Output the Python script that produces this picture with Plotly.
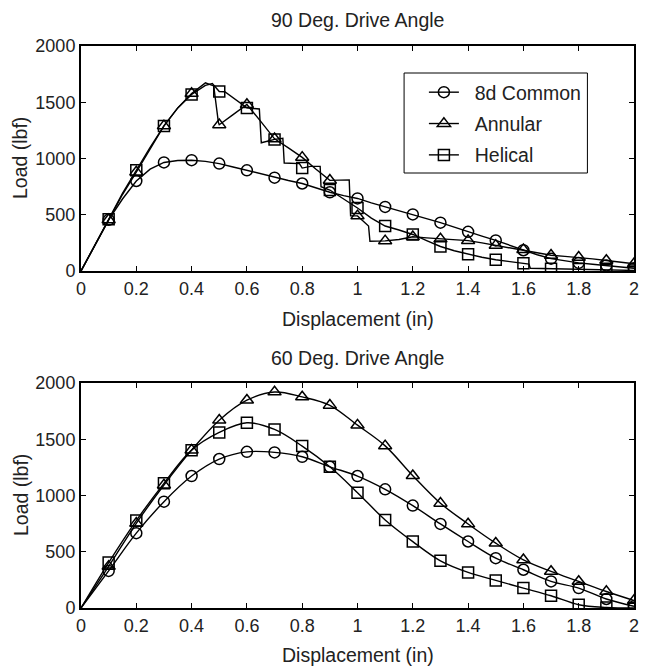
import plotly.graph_objects as go

# ---------------- data ----------------
tick_vals = [0, 0.2, 0.4, 0.6, 0.8, 1.0, 1.2, 1.4, 1.6, 1.8, 2.0]
tick_text = ["0", "0.2", "0.4", "0.6", "0.8", "1", "1.2", "1.4", "1.6", "1.8", "2"]
y_tick_vals = [0, 500, 1000, 1500, 2000]
y_tick_text = ["0", "500", "1000", "1500", "2000"]

series_names = ["8d Common", "Annular", "Helical"]
series_symbols = ["circle-open", "triangle-up-open", "square-open"]
series_sizes = [11, 11.5, 11]

# 90 deg drive angle (measured curves)
common90_x = [0, 0.05, 0.1, 0.15, 0.2, 0.25, 0.3, 0.35, 0.4, 0.45, 0.5, 0.55, 0.6, 0.65, 0.7, 0.75, 0.8,
              0.85, 0.9, 0.95, 1.0, 1.05, 1.1, 1.15, 1.2, 1.25, 1.3, 1.35, 1.4, 1.45, 1.5, 1.55, 1.6,
              1.65, 1.7, 1.75, 1.8, 1.85, 1.9, 1.95, 2.0]
common90_y = [0, 230, 455, 640, 800, 905, 965, 982, 985, 975, 955, 925, 895, 862, 830, 805, 778,
              740, 700, 670, 645, 605, 570, 537, 503, 467, 430, 390, 348, 310, 272, 228, 185,
              145, 110, 88, 72, 60, 50, 38, 25]

annular90_x = [0, 0.05, 0.1, 0.15, 0.2, 0.25, 0.3, 0.35, 0.4, 0.45, 0.48, 0.497, 0.5, 0.55, 0.6, 0.65,
               0.7, 0.75, 0.8, 0.85, 0.9, 0.97, 0.975, 1.0, 1.04, 1.045, 1.1, 1.15, 1.2, 1.25, 1.3,
               1.35, 1.4, 1.45, 1.5, 1.55, 1.6, 1.65, 1.7, 1.75, 1.8, 1.85, 1.9, 1.95, 2.0]
annular90_y = [0, 230, 455, 680, 880, 1090, 1290, 1450, 1578, 1672, 1645, 1320, 1300, 1390, 1480, 1330,
               1175, 1095, 1010, 905, 806, 810, 490, 490, 400, 265, 268, 280, 305, 295, 285,
               278, 270, 250, 228, 208, 190, 165, 140, 130, 122, 108, 94, 80, 64]

helical90_x = [0, 0.05, 0.1, 0.15, 0.2, 0.25, 0.3, 0.35, 0.4, 0.45, 0.475, 0.5, 0.52, 0.6, 0.645, 0.652,
               0.7, 0.73, 0.735, 0.79, 0.8, 0.83, 0.865, 0.868, 0.9, 0.95, 1.0, 1.05, 1.1, 1.15, 1.2,
               1.25, 1.3, 1.35, 1.4, 1.45, 1.5, 1.55, 1.6, 1.62, 1.625, 1.7, 1.75, 1.8, 1.85, 1.9, 1.95, 2.0]
helical90_y = [0, 235, 460, 690, 895, 1100, 1290, 1450, 1570, 1650, 1667, 1595, 1593, 1450, 1440, 1140,
               1170, 1180, 960, 955, 915, 930, 930, 750, 720, 640, 560, 470, 400, 365, 325,
               270, 218, 180, 150, 122, 100, 85, 68, 62, 25, 20, 19, 18, 15, 12, 9, 5]

# 60 deg drive angle
x60 = [0, 0.1, 0.2, 0.3, 0.4, 0.5, 0.6, 0.7, 0.8, 0.9, 1.0, 1.1, 1.2, 1.3, 1.4, 1.5, 1.6, 1.7, 1.8, 1.9, 2.0]
common60_y = [0, 330, 665, 945, 1173, 1324, 1388, 1383, 1344, 1255, 1173, 1055, 910, 747, 591, 443, 340,
              236, 177, 80, 15]
annular60_y = [0, 370, 753, 1093, 1403, 1669, 1847, 1920, 1876, 1802, 1625, 1441, 1176, 931, 747, 576, 428,
               325, 236, 147, 67]
helical60_y = [0, 404, 777, 1108, 1403, 1560, 1646, 1587, 1439, 1255, 1025, 783, 590, 419, 316, 245, 177,
               109, 29, 5, 0]

marker_x = [0.1, 0.2, 0.3, 0.4, 0.5, 0.6, 0.7, 0.8, 0.9, 1.0, 1.1, 1.2, 1.3, 1.4, 1.5, 1.6, 1.7, 1.8, 1.9, 2.0]

# ---------------- figure ----------------
FONT = "Liberation Sans, Arial, Helvetica, sans-serif"
TXT = "#222"
fig = go.Figure()


def marks(xs, ys):
    mx, my = [], []
    for xv, yv in zip(xs, ys):
        if any(abs(xv - m) < 1e-9 for m in marker_x):
            mx.append(xv)
            my.append(yv)
    return mx, my


def add_series(xs, ys, idx, xa, ya, shape):
    fig.add_trace(go.Scatter(x=xs, y=ys, mode="lines", xaxis=xa, yaxis=ya,
                             line=dict(color="black", width=1.4, shape=shape),
                             showlegend=False, hoverinfo="skip"))
    mx, my = marks(xs, ys)
    fig.add_trace(go.Scatter(x=mx, y=my, mode="markers", xaxis=xa, yaxis=ya,
                             marker=dict(symbol=series_symbols[idx], size=series_sizes[idx],
                                         color="black", line=dict(width=1.5, color="black")),
                             showlegend=False))


add_series(common90_x, common90_y, 0, "x", "y", "linear")
add_series(annular90_x, annular90_y, 1, "x", "y", "linear")
add_series(helical90_x, helical90_y, 2, "x", "y", "linear")
add_series(x60, common60_y, 0, "x2", "y2", "spline")
add_series(x60, annular60_y, 1, "x2", "y2", "spline")
add_series(x60, helical60_y, 2, "x2", "y2", "spline")

# legend entries
for i, name in enumerate(series_names):
    fig.add_trace(go.Scatter(x=[None], y=[None], mode="lines+markers", name="\u00a0\u00a0" + name,
                             legendgroup="g%d" % i, xaxis="x", yaxis="y",
                             line=dict(color="black", width=1.4),
                             marker=dict(symbol=series_symbols[i], size=series_sizes[i], color="black",
                                         line=dict(width=1.5, color="black"))))

axis_common = dict(range=[0, 2], tickvals=tick_vals, ticktext=tick_text, ticks="inside", ticklen=5,
                   tickwidth=1.3, tickcolor="black", showline=True, linewidth=2, linecolor="black",
                   mirror="ticks", showgrid=False, zeroline=False,
                   tickfont=dict(family=FONT, size=18, color=TXT))
yaxis_common = dict(range=[0, 2000], tickvals=y_tick_vals, ticktext=y_tick_text, ticks="inside", ticklen=5,
                    tickwidth=1.3, tickcolor="black", showline=True, linewidth=2, linecolor="black",
                    mirror="ticks", showgrid=False, zeroline=False,
                    tickfont=dict(family=FONT, size=18, color=TXT))

# plot area: 558 x 562 px (page body adds an 8px offset)
PH = 562.0
PW = 558.0


def py(win_y):
    return 1 - (win_y - 46) / PH


def px(win_x):
    return (win_x - 81) / PW


title_font = dict(family=FONT, size=19.5, color=TXT)

fig.update_layout(
    width=641, height=659,
    margin=dict(l=73, r=10, t=38, b=59),
    paper_bgcolor="white", plot_bgcolor="white",
    font=dict(family=FONT, size=18, color=TXT),
    xaxis=dict(axis_common, domain=[0, 1], anchor="y"),
    yaxis=dict(yaxis_common, domain=[0.5996, 1], anchor="x"),
    xaxis2=dict(axis_common, domain=[0, 1], anchor="y2"),
    yaxis2=dict(yaxis_common, domain=[0, 0.4004], anchor="x2"),
    legend=dict(x=px(427), y=py(73), xanchor="left", yanchor="top", bgcolor="rgba(0,0,0,0)",
                borderwidth=0, traceorder="grouped", tracegroupgap=3,
                font=dict(family=FONT, size=19.5, color=TXT)),
    shapes=[dict(type="rect", xref="paper", yref="paper", x0=px(407), x1=px(592), y0=py(173), y1=py(73),
                 line=dict(color="black", width=1), fillcolor="white", layer="below")],
    annotations=[
        dict(text="90 Deg. Drive Angle", x=0.5, y=py(20), xref="paper", yref="paper",
             showarrow=False, xanchor="center", yanchor="middle", font=title_font),
        dict(text="60 Deg. Drive Angle", x=0.5, y=py(358), xref="paper", yref="paper",
             showarrow=False, xanchor="center", yanchor="middle", font=title_font),
        dict(text="Displacement (in)", x=0.5, y=py(319), xref="paper", yref="paper",
             showarrow=False, xanchor="center", yanchor="middle", font=title_font),
        dict(text="Displacement (in)", x=0.5, y=py(655), xref="paper", yref="paper",
             showarrow=False, xanchor="center", yanchor="middle", font=title_font),
        dict(text="Load (lbf)", x=px(20), y=py(158.5), xref="paper", yref="paper", textangle=-90,
             showarrow=False, xanchor="center", yanchor="middle", font=title_font),
        dict(text="Load (lbf)", x=px(20), y=py(495.5), xref="paper", yref="paper", textangle=-90,
             showarrow=False, xanchor="center", yanchor="middle", font=title_font),
    ],
)

fig.write_html("out.html")
